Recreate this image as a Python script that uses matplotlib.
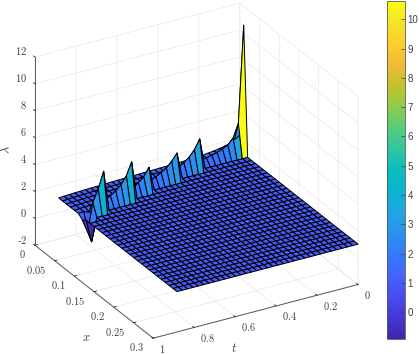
import numpy as np
import matplotlib
matplotlib.use('Agg')
import matplotlib.pyplot as plt
from matplotlib.colors import LinearSegmentedColormap, Normalize
from mpl_toolkits.mplot3d import proj3d

plt.rcParams['font.family'] = 'Liberation Sans'
plt.rcParams['mathtext.fontset'] = 'cm'

parula = LinearSegmentedColormap.from_list('parula', [
    (.2422, .1504, .6603), (.2706, .2147, .8364), (.2813, .3006, .9414), (.2699, .3892, .9906),
    (.1963, .4847, .9892), (.1687, .5703, .9359), (.1248, .6459, .8883), (.0297, .7082, .8163),
    (.0433, .7411, .7394), (.1938, .7758, .6251), (.3406, .8008, .4789), (.5616, .7942, .3045),
    (.7738, .7598, .1646), (.9393, .7288, .2100), (.9892, .8090, .1816), (.9610, .8910, .1530),
    (.9769, .9839, .0805)])

x_vals = np.arange(31) * 0.01
t_vals = np.arange(35) * 0.026
flat_z = 1.0
edge_z = [2.2, 1.95, 1.75, 1.65, 1.58, 1.52, 1.47, 1.43, 1.40, 1.38, 1.36, 1.34, 1.33, 1.32, 1.31, 1.30, 1.29, 1.28,
          1.27, 1.26, 1.25, 1.24, 1.23, 1.22, 1.21, 1.20, 1.18, 1.17, 1.16, 1.15, 1.13, 1.12, 1.10, 1.08, 1.05]
front_idx = [1] * 9 + [2] * 5 + [3] * 6 + [4] * 4 + [5] * 6 + [6] * 3 + [7] * 2
front_z = [10.6, 3.4, 2.4, 2.0, 1.8, 1.65, 1.55, 1.45, 1.4,
           3.3, 2.6, 2.15, 1.85, 1.6,
           3.0, 2.5, 2.1, 1.85, 1.65, 1.5,
           2.8, 2.2, 1.85, 1.6,
           3.85, 2.9, 2.35, 2.0, 1.75, 1.55,
           4.0, 2.8, 1.9,
           -0.7, 1.0]
hollow_z = [0.95] * 33 + [-0.2, 0.8]
x_ticks = [0, 0.05, 0.1, 0.15, 0.2, 0.25, 0.3]
t_ticks = [0, 0.2, 0.4, 0.6, 0.8, 1]
z_ticks = [-2, 0, 2, 4, 6, 8, 10, 12]

Z = np.full((len(x_vals), len(t_vals)), flat_z)
for j, k in enumerate(front_idx):
    Z[:k, j] = edge_z[j]
    if k >= 2:
        Z[k - 1, j] = hollow_z[j]
    Z[k, j] = front_z[j]
T, X = np.meshgrid(t_vals, x_vals)

norm = Normalize(-0.92, 10.63)

fig = plt.figure(figsize=(4.19, 3.54), dpi=100)
ax = fig.add_axes([0.0075, 0.0042, 0.9, 1], projection='3d')
ax.set_proj_type('ortho')
ax.view_init(elev=27, azim=-30)
ax.set_box_aspect((1, 1, 0.893), zoom=1.085)
ax.plot_surface(X, T, Z, facecolors=parula(norm(Z)), rstride=1, cstride=1, shade=False,
                edgecolor='k', linewidth=0.7, antialiased=True)
ax.set_xlim(0, 0.3)
ax.set_ylim(1, 0)
ax.set_zlim(-2, 12)
ax.set_xticks(x_ticks)
ax.set_yticks(t_ticks)
ax.set_zticks(z_ticks)
ax.set_xticklabels([])
ax.set_yticklabels([])
ax.set_zticklabels([])
ax.zaxis.set_ticks_position('upper')
for a in (ax.xaxis, ax.yaxis, ax.zaxis):
    a.set_pane_color((1, 1, 1, 0))
    a.pane.set_edgecolor((1, 1, 1, 0))
    a._axinfo['grid']['color'] = '0.92'
    a._axinfo['grid']['linewidth'] = 0.6
    a._axinfo['tick']['inward_factor'] = 0
    a._axinfo['tick']['outward_factor'] = 0.15
    a._axinfo['tick']['color'] = '0.3'
    a._axinfo['tick']['linewidth'] = {True: 0.5, False: 0.5}
    a.line.set_color('0.35')
    a.line.set_linewidth(0.7)


# tick labels placed by hand from the projected tick positions, mpl3d pads go the wrong way
def tick_label(xyz, text, offset, ha):
    px, py, _ = proj3d.proj_transform(*xyz, ax.get_proj())
    ax.annotate(text, (px, py), xytext=offset, textcoords='offset pixels', ha=ha, va='center',
                fontsize=7.5, color='0.25', annotation_clip=False)


for v in x_ticks:
    tick_label((v, 1, -2), '$%g$' % v, (-9, -9), 'right')
for v in t_ticks:
    tick_label((0.3, v, -2), '$%g$' % v, (6, -10.5), 'left')
for v in z_ticks:
    tick_label((0, 1, v), ('-$%d$' % -v) if v < 0 else '$%d$' % v, (-8, 5.5), 'right')

fig.text(86 / 419, 1 - 338 / 354, '$x$', fontsize=9, ha='center', va='center', color='0.25')
fig.text(234 / 419, 1 - 348 / 354, '$t$', fontsize=9, ha='center', va='center', color='0.25')
fig.text(7 / 419, 1 - 150 / 354, r'$\lambda$', fontsize=9, ha='center', va='center', rotation=90, color='0.25')

cax = fig.add_axes([387 / 419, 15 / 354, 18 / 419, 338 / 354])
cb = fig.colorbar(plt.cm.ScalarMappable(norm=norm, cmap=parula), cax=cax)
cb.set_ticks(np.arange(0, 11))
cb.ax.tick_params(direction='in', length=3, width=0.5, labelsize=7, colors='0.25', pad=2)
cb.outline.set_edgecolor('0.35')
cb.outline.set_linewidth(0.6)

fig.savefig('out.png', dpi=100)
